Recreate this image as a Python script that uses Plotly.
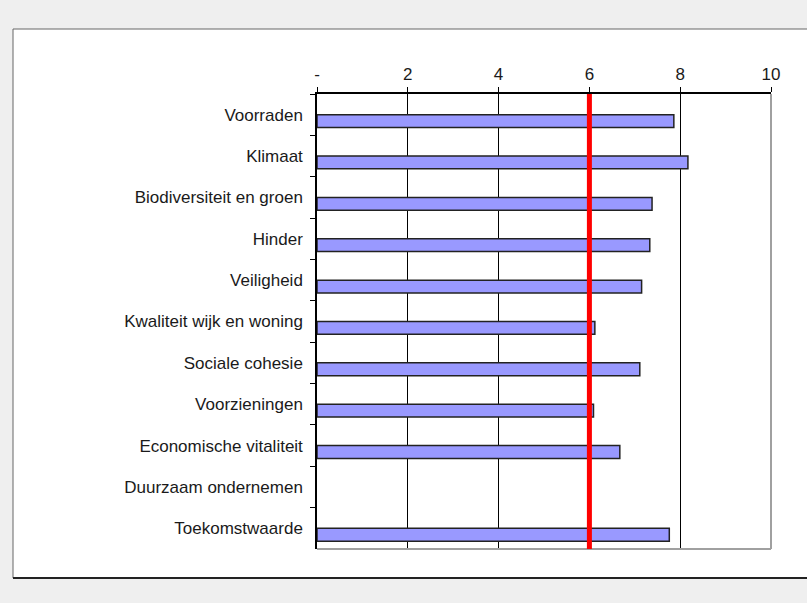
import plotly.graph_objects as go

categories = ["Voorraden", "Klimaat", "Biodiversiteit en groen", "Hinder", "Veiligheid",
              "Kwaliteit wijk en woning", "Sociale cohesie", "Voorzieningen",
              "Economische vitaliteit", "Duurzaam ondernemen", "Toekomstwaarde"]
scores = [7.86, 8.17, 7.38, 7.33, 7.15, 6.12, 7.11, 6.09, 6.67, None, 7.76]
norm = 6
x_tickvals = [0, 2, 4, 6, 8, 10]
x_ticktext = ["-", "2", "4", "6", "8", "10"]

W, H = 807, 603
L, R, T, B = 317, 771, 94, 549
pw, ph = R - L, B - T

def px_x(px):
    return (px - L) / pw

def px_y(py):
    return (B - py) / ph

fig = go.Figure()
fig.add_trace(go.Bar(
    y=categories, x=scores, orientation="h",
    marker=dict(color="#9999ff", line=dict(color="#222222", width=1.5)),
    width=0.31, offset=0.0,
))

font = dict(family="Liberation Sans, Arial, sans-serif", size=17, color="#1a1a1a")

shapes = [
    dict(type="rect", xref="paper", yref="paper", layer="below",
         x0=px_x(13), x1=px_x(812), y0=px_y(578), y1=px_y(29),
         fillcolor="white", line=dict(color="#666666", width=1)),
    dict(type="line", xref="paper", yref="paper", layer="below",
         x0=px_x(13), x1=px_x(812), y0=px_y(578), y1=px_y(578),
         line=dict(color="#222222", width=2)),
    dict(type="line", xref="paper", yref="paper", layer="above",
         x0=1, x1=1, y0=0, y1=1, line=dict(color="#a0a0a0", width=2)),
    dict(type="line", xref="paper", yref="paper", layer="above",
         x0=0, x1=1, y0=0, y1=0, line=dict(color="#a0a0a0", width=2)),
    dict(type="line", xref="x", yref="paper", layer="above",
         x0=norm, x1=norm, y0=0, y1=1, line=dict(color="#ff0000", width=5)),
]

fig.update_layout(
    width=W, height=H,
    margin=dict(l=L, r=W - R, t=T, b=H - B),
    paper_bgcolor="#efefef", plot_bgcolor="#c0c0c0",
    showlegend=False, font=font, shapes=shapes, bargap=0.37,
    xaxis=dict(side="top", range=[0, 10], tickvals=x_tickvals, ticktext=x_ticktext,
               showgrid=True, gridcolor="#000000", gridwidth=1, zeroline=False,
               showline=True, linecolor="#000000", linewidth=1.5,
               ticks="outside", ticklen=5, tickcolor="#000000", tickfont=font,
               ticklabelstandoff=0),
    yaxis=dict(categoryorder="array", categoryarray=categories, autorange="reversed",
               showgrid=False, zeroline=False, showline=True, linecolor="#000000",
               linewidth=1.5, ticks="outside", ticklen=5, tickcolor="#000000",
               tickson="boundaries", tickfont=font, ticklabelstandoff=9),
)

fig.write_html("out.html", config={"displayModeBar": False},
               post_script="document.body.style.margin='0';document.body.style.background='#efefef';")
